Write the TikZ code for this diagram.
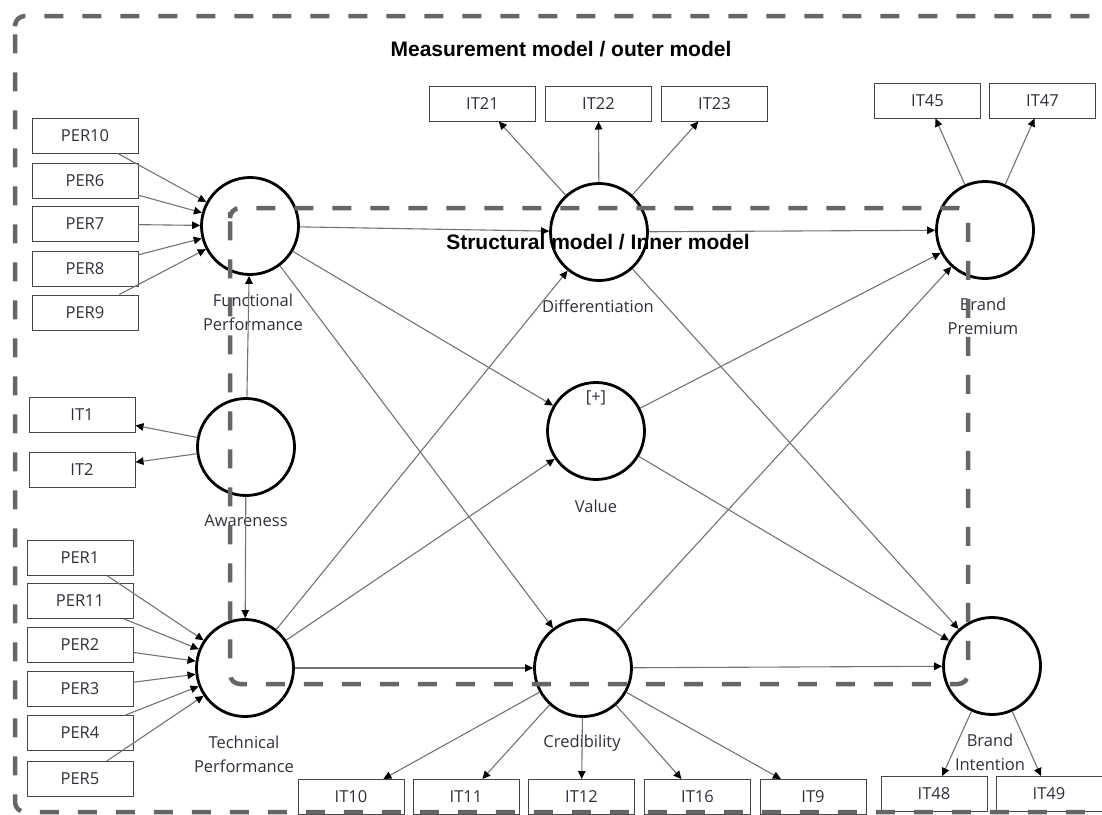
\documentclass[tikz,border=0pt]{standalone}
\usepackage{fontspec}
\setmainfont{Open Sans}
\newfontfamily\headfont{Liberation Sans}
\usetikzlibrary{arrows.meta}

\definecolor{dashgray}{RGB}{102,102,102}
\definecolor{linkgray}{RGB}{115,115,115}
\definecolor{labelgray}{RGB}{48,48,58}
\definecolor{boxgray}{RGB}{70,70,70}

\begin{document}
\begin{tikzpicture}[x=1pt,y=-1pt,
  latent/.style={circle,draw=black,line width=2.8pt,minimum size=97pt,inner sep=0pt},
  item/.style={rectangle,draw=boxgray,line width=1pt,minimum width=106pt,minimum height=35pt,
    inner sep=0pt,font=\fontsize{16.5}{18}\selectfont,text=labelgray},
  lbl/.style={font=\fontsize{16.5}{24}\selectfont,text=labelgray,align=center,inner sep=0pt},
  link/.style={draw=linkgray,line width=1.1pt,-{Triangle[length=8pt,width=7.5pt,color=black]}},
  regionframe/.style={draw=dashgray,line width=4.5pt,dash pattern=on 19pt off 19pt,rounded corners=10pt},
  heading/.style={font=\headfont\bfseries\fontsize{21}{24}\selectfont,inner sep=0pt}]

\useasboundingbox (0,0) rectangle (1102,814);
\clip (0,0) rectangle (1102,814);

% headings
\node[heading] (hmeas) at (561,49) {Measurement model / outer model};
\node[heading] (hstruct) at (598,242) {Structural model / Inner model};

% latent variables
\node[latent] (fp) at (250,226) {};
\node[latent] (aw) at (246,447) {};
\node[latent] (tp) at (245,668) {};
\node[latent] (di) at (599,232) {};
\node[latent] (va) at (596,431) {};
\node[latent] (cr) at (583,668) {};
\node[latent] (bp) at (985,230) {};
\node[latent] (bi) at (992,666) {};

% latent labels
\node[lbl] (lfp) at (253,312) {Functional\\Performance};
\node[lbl] (law) at (246,521) {Awareness};
\node[lbl] (ltp) at (244,754) {Technical\\Performance};
\node[lbl] (ldi) at (598,306) {Differentiation};
\node[lbl] (lva) at (596,506) {Value};
\node[lbl] (lvp) at (596,398) {[+]};
\node[lbl] (lcr) at (582,743) {Credibility};
\node[lbl] (lbp) at (983,316) {Brand\\Premium};
\node[lbl] (lbi) at (990,752) {Brand\\Intention};

% indicators
\node[item] (per10) at (85,135.5) {PER10};
\node[item] (per6)  at (85,180.5) {PER6};
\node[item] (per7)  at (85,224) {PER7};
\node[item] (per8)  at (85,268.5) {PER8};
\node[item] (per9)  at (85,312.5) {PER9};
\node[item] (it1)   at (82,415) {IT1};
\node[item] (it2)   at (82,469.5) {IT2};
\node[item] (per1)  at (80,557.5) {PER1};
\node[item] (per11) at (80,601) {PER11};
\node[item] (per2)  at (80,645) {PER2};
\node[item] (per3)  at (80,689) {PER3};
\node[item] (per4)  at (80,733) {PER4};
\node[item] (per5)  at (80,779) {PER5};
\node[item] (it21)  at (482.5,103.5) {IT21};
\node[item] (it22)  at (598.5,103.5) {IT22};
\node[item] (it23)  at (714.5,103.5) {IT23};
\node[item] (it45)  at (927.5,100.5) {IT45};
\node[item] (it47)  at (1042.5,100.5) {IT47};
\node[item] (it10)  at (351,797) {IT10};
\node[item] (it11)  at (466,797) {IT11};
\node[item] (it12)  at (581.5,797) {IT12};
\node[item] (it16)  at (697.5,797) {IT16};
\node[item] (it9)   at (813,797) {IT9};
\node[item] (it48)  at (934,794) {IT48};
\node[item] (it49)  at (1049,794) {IT49};

% formative indicators
\foreach \s in {per10,per6,per7,per8,per9} \draw[link] (\s) -- (fp);
\foreach \s in {per1,per11,per2,per3,per4,per5} \draw[link] (\s) -- (tp);

% reflective indicators
\foreach \t in {it1,it2} \draw[link] (aw) -- (\t);
\foreach \t in {it21,it22,it23} \draw[link] (di) -- (\t);
\foreach \t in {it45,it47} \draw[link] (bp) -- (\t);
\foreach \t in {it10,it11,it12,it16,it9} \draw[link] (cr) -- (\t);
\foreach \t in {it48,it49} \draw[link] (bi) -- (\t);

% structural paths
\draw[link] (aw) -- (fp);
\draw[link] (aw) -- (tp);
\draw[link] (fp) -- (di);
\draw[link] (fp) -- (va);
\draw[link] (fp) -- (cr);
\draw[link] (tp) -- (di);
\draw[link] (tp) -- (va);
\draw[link] (tp) -- (cr);
\draw[link] (di) -- (bp);
\draw[link] (di) -- (bi);
\draw[link] (va) -- (bp);
\draw[link] (va) -- (bi);
\draw[link] (cr) -- (bp);
\draw[link] (cr) -- (bi);

% model boundaries
\draw[regionframe] (15,33) -- (15,16) -- (1140,16) -- (1140,812) -- (15,812) -- cycle;
\draw[regionframe] (230,222) -- (230,208) -- (968,208) -- (968,684) -- (230,684) -- cycle;
\end{tikzpicture}
\end{document}
